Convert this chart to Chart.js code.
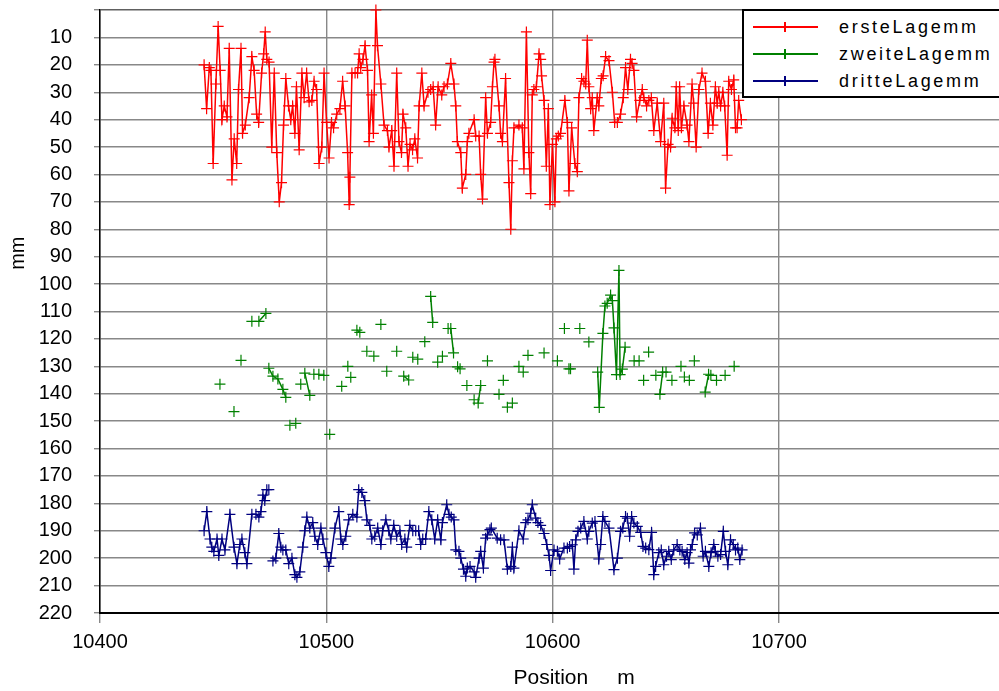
<!DOCTYPE html>
<html>
<head>
<meta charset="utf-8">
<script src="https://cdn.jsdelivr.net/npm/chart.js@4.4.1/dist/chart.umd.min.js"></script>
<style>
html,body{margin:0;padding:0;background:#fff;overflow:hidden;}
#wrap{position:relative;width:999px;height:691px;overflow:hidden;}
#c{position:absolute;left:0;top:0;}
#legend{position:absolute;left:742px;top:9px;width:300px;height:89px;border:2px solid #000;background:#fff;box-sizing:border-box;
  font-family:'Liberation Sans',Arial,sans-serif;font-size:18px;letter-spacing:2.7px;color:#000;}
.row{position:absolute;left:0;height:22px;line-height:22px;width:100%;}
.sw{position:absolute;left:9px;top:10px;width:65px;height:2px;}
.sw i{position:absolute;left:31px;top:-4px;width:1.5px;height:10px;}
.tx{position:absolute;left:95px;top:0;}
</style>
</head>
<body>
<div id="wrap">
<canvas id="c" width="1055" height="691"></canvas>
<div id="legend"></div>
</div>
<script>
const seriesNames = ['ersteLagemm', 'zweiteLagemm', 'dritteLagemm'];
const seriesColors = ['#ff0000', '#008000', '#000080'];
const xTicks = [10400, 10500, 10600, 10700];
const yTicks = [0,10,20,30,40,50,60,70,80,90,100,110,120,130,140,150,160,170,180,190,200,210,220];
const xTitle = 'Position     m';
const yTitle = '                     mm';

const redPos = [10446.0,10447.1,10448.3,10449.0,10450.0,10451.2,10452.2,10453.1,10453.9,10454.9,10456.1,10457.1,10458.3,10459.3,10460.4,10461.2,10462.3,10463.0,10464.2,10465.9,
10467.1,10468.1,10469.2,10470.1,10471.4,10472.3,10473.0,10473.7,10474.7,10475.9,10477.0,10478.1,10479.2,10480.2,10481.1,10482.1,10483.3,10484.3,10485.1,10486.1,
10486.8,10488.0,10489.2,10490.2,10491.3,10492.4,10493.6,10494.6,10495.7,10496.8,10498.0,10499.0,10500.1,10501.2,10502.3,10503.2,10504.6,10506.0,10507.2,10508.3,
10509.4,10510.1,10510.4,10511.3,10512.7,10513.8,10514.5,10515.2,10516.2,10517.1,10518.2,10518.9,10520.0,10520.8,10521.9,10522.6,10524.1,10525.5,10527.0,10527.7,
10528.9,10529.9,10531.1,10532.1,10533.2,10533.9,10535.1,10536.1,10537.0,10538.1,10539.1,10540.3,10541.0,10542.2,10543.2,10544.9,10546.1,10547.2,10548.3,10549.4,
10551.0,10552.0,10553.5,10555.0,10556.4,10557.2,10557.9,10559.4,10560.1,10561.6,10562.3,10563.0,10565.3,10566.0,10567.5,10568.2,10569.0,10570.4,10571.2,10572.6,
10573.4,10574.1,10574.5,10576.3,10577.0,10577.8,10579.2,10580.7,10581.5,10582.2,10582.9,10585.1,10586.6,10587.3,10588.4,10589.5,10590.3,10591.0,10591.7,10592.8,
10594.0,10594.7,10595.1,10596.2,10597.2,10598.1,10598.8,10599.9,10601.0,10601.6,10602.5,10603.5,10605.4,10606.5,10607.2,10608.4,10609.8,10610.9,10611.6,10612.8,
10613.8,10614.6,10615.3,10616.0,10616.8,10617.5,10618.2,10619.7,10620.4,10621.5,10622.3,10623.4,10624.9,10626.4,10627.4,10628.6,10630.0,10631.2,10632.2,10633.2,
10634.4,10635.1,10635.9,10637.1,10638.5,10639.6,10640.3,10641.5,10642.5,10643.6,10644.7,10646.2,10647.7,10649.1,10649.9,10651.0,10652.1,10652.8,10654.0,10654.6,
10655.5,10656.1,10656.9,10658.0,10659.4,10660.2,10661.6,10662.3,10663.4,10664.6,10666.0,10667.5,10668.7,10669.7,10670.8,10671.9,10672.7,10673.4,10674.2,10675.2,
10676.0,10677.1,10677.8,10679.0,10680.0,10680.8,10681.5,10682.2,10683.4];
const redVal = [20,36,21,22,56,27,6,22,40,35,39,14,62,47,56,29,14,45,42,32,
17,22,38,41,23,16,8,18,19,50,23,52,70,63,42,25,35,40,35,45,
28,51,23,32,23,33.5,33,26,29,56,50,23,41,54,41,43,38,36,26,35,
52,71,61,23,23,23,16,21,18,13,22,48,31,45,0,13,27,42,44,50,
44,57,23,48,52,38,43,57,49,51,47,54,35,23,35,30,29,28,42,28,
31,28,27,19.5,27,35,48,52,65,60,48,45,40,46,46,60,69,32,45,41,
28,19,18,35,45,48,25,63,80,55,43,42,43,58,8,52,67,31,29,28,
16,18,24,33,57,36,71,49,70,47,46,45,33,41,66,43,56,59,32,25,
26,27,11,28,36,32,44,32,35,25,24,17,18.5,30,41,41,38,32,21,29,
18,19.5,22,39,33,29,32,35,33,32,44,34,48,34,65,49,50,39.5,43,28,
44,28,43,35,42,48,27,34,50,29,23,26,45,34,42,28,34,30,35,30,
35,53,26,29,25.5,43,43,33,40];

const greenPos = [10453.0,10456.0,10459.2,10461.0,10462.3,10465.0,10467.1,10469.0,10470.2,10473.3,10474.0,10474.6,10476.4,10478.6,10480.8,10482.1,10483.0,10483.9,10485.0,10486.5,
10487.5,10488.7,10489.5,10490.5,10492.7,10493.5,10494.5,10495.5,10496.7,10498.0,10498.9,10500.0,10501.5,10504.0,10506.8,10508.0,10509.5,10510.2,10510.8,10512.0,
10513.5,10514.8,10516.0,10517.9,10519.5,10521.0,10522.5,10524.1,10525.5,10526.7,10529.0,10531.1,10532.5,10534.2,10536.4,10537.3,10538.2,10539.3,10540.4,10542.0,
10543.5,10545.0,10546.1,10547.0,10548.0,10549.2,10550.3,10551.3,10552.5,10553.8,10555.0,10556.2,10557.0,10558.0,10559.1,10560.5,10562.1,10563.7,10565.3,10566.2,
10567.1,10568.2,10569.7,10571.2,10573.7,10576.3,10577.2,10578.2,10579.1,10580.0,10581.1,10582.2,10583.6,10585.1,10586.0,10587.0,10588.0,10589.1,10592.5,10596.2,
10599.0,10602.1,10603.6,10605.2,10606.2,10607.2,10607.9,10610.0,10612.0,10614.0,10616.0,10618.0,10619.9,10620.6,10622.2,10623.1,10624.1,10625.6,10626.4,10627.1,
10628.2,10629.3,10629.8,10630.8,10632.0,10634.0,10636.0,10637.1,10638.2,10639.2,10640.2,10641.3,10642.4,10644.0,10645.6,10646.5,10647.4,10648.6,10649.3,10650.1,
10651.4,10652.7,10654.7,10656.7,10657.4,10658.2,10659.3,10660.4,10661.5,10662.6,10665.0,10667.4,10668.9,10669.4,10669.9,10671.1,10672.4,10674.3,10676.2,10678.2,
10680.2];
const greenVal = [136.5,null,146.5,null,127.8,null,113.6,null,113.6,110.7,null,130.7,133.6,134.6,138.4,141.3,null,151.5,null,150.8,
null,136.5,null,132.5,140.6,null,132.9,null,132.9,null,133.3,null,154.8,null,137.3,null,130,null,134,null,
116.8,117.6,null,124.5,null,126.3,null,114.7,null,131.8,null,124.5,null,133.6,135,null,126.7,null,127.4,null,
121,null,104.5,114,null,128.5,null,126.3,null,116.2,116.2,125.1,null,130.2,130.9,null,137,null,142.2,null,
143.4,137,null,128,null,140.2,null,135.1,null,144.9,null,143.4,null,130,null,132.1,null,126,null,125.1,
null,128,null,116.2,null,130.9,130.9,null,116.2,null,121.1,null,132.1,145,118,108,107,104,106,116,
133,95,133,131,123,null,128,null,128,null,135.1,null,124.8,null,133.3,null,140.2,132.1,null,132.1,
null,135.1,null,130,null,133.9,null,135.1,null,128,null,139.4,132.9,null,133.3,null,135.1,null,133.3,null,
130];

const bluePos = [10446.0,10447.2,10448.6,10449.4,10450.3,10451.7,10452.5,10453.9,10455.2,10457.4,10459.2,10460.5,10461.8,10462.7,10464.0,10464.9,10467.1,10468.9,10470.2,10471.1,
10472.0,10472.8,10473.7,10474.6,10475.5,10476.4,10477.7,10479.0,10479.9,10480.8,10482.1,10483.4,10484.8,10486.1,10487.0,10488.3,10489.6,10490.5,10491.4,10492.7,
10494.0,10494.9,10496.2,10497.6,10498.5,10499.8,10501.1,10502.0,10503.8,10505.5,10506.4,10507.3,10508.6,10509.9,10511.7,10513.5,10514.3,10515.7,10517.0,10517.9,
10519.2,10520.1,10521.4,10522.7,10524.1,10524.9,10526.3,10527.6,10528.5,10529.8,10531.1,10532.5,10533.3,10534.7,10535.5,10536.9,10538.2,10539.5,10540.8,10541.7,
10542.6,10543.9,10545.3,10546.6,10547.9,10549.2,10550.6,10551.3,10553.2,10554.2,10555.2,10556.4,10557.2,10558.6,10559.4,10560.6,10561.6,10562.3,10563.5,10565.3,
10566.0,10567.5,10568.2,10569.4,10570.4,10571.2,10572.3,10572.9,10575.5,10577.0,10578.5,10580.0,10581.5,10582.2,10582.9,10585.1,10587.0,10588.1,10589.1,10590.3,
10591.0,10592.5,10593.5,10594.7,10596.2,10597.4,10598.4,10599.1,10600.6,10602.1,10603.1,10605.0,10606.5,10607.5,10608.7,10609.4,10610.2,10611.2,10612.4,10613.8,
10615.3,10616.0,10617.5,10618.7,10620.4,10621.2,10622.2,10623.1,10624.9,10627.1,10628.6,10630.0,10631.0,10632.2,10633.0,10634.0,10634.9,10635.9,10637.4,10638.9,
10639.9,10641.1,10642.5,10643.7,10644.7,10645.5,10646.9,10648.0,10649.1,10650.3,10651.3,10652.4,10653.5,10655.0,10656.2,10657.2,10658.4,10659.4,10660.2,10660.9,
10661.7,10662.7,10663.9,10665.3,10666.5,10667.5,10669.0,10670.0,10671.2,10671.9,10673.0,10674.2,10675.4,10676.4,10677.4,10678.6,10679.8,10680.8,10681.8,10682.7,
10683.7];
const blueVal = [190,183,193,196,197.5,193,199,193,197,184,196,202,195,193,198,202,184,184,185,183,
177,179,175,175,null,201,200,191,196,197,197,202,200,206,207,205,196,190,185,189,
187,192,195,189,193,198,203,200,189,183,193,195,192,186,184,185,175,176,179,186,
188,193,192,189,195,190,186,190,193,188,192,190,195,193,196,188,190,190,190,195,
193,193,183,186,193,186,193.3,187,180.5,184,185,186,197,197.5,200,204,206.6,203.6,203,205,
207,200,197.5,203.6,192.7,191.5,189.6,189,192.7,193.3,193.3,204,203,196,203.6,190,193,187,186,183.6,
180.5,185.4,187,188,191,195,199,204.5,197,197.5,200.3,196.3,196.3,195.7,195.1,204,193.3,190.2,189,186.6,
193,190.2,187.2,186.6,200.3,195,184.8,186.6,189,204.2,200,190.2,189,184.8,185.4,192,184.8,187.2,188.4,190.6,
195.7,196.3,196.9,190.6,206,203,198,197,202.4,199.3,197.5,200.5,197,195,197,197.5,200.5,198,201.8,197,
195,190.8,191.5,189,199.3,197.5,203,198,195,197.5,199.3,198.7,190.2,197.5,202.4,193.3,195,197,196.3,200.5,
197];

function toPoints(pos, val) {
  return pos.map((p, i) => ({ x: p, y: val[i] }));
}
const posSets = [redPos, greenPos, bluePos];
const valSets = [redVal, greenVal, blueVal];

const FONT = "'Liberation Sans', Arial, sans-serif";

const datasets = seriesNames.map((name, i) => ({
  label: name,
  data: toPoints(posSets[i], valSets[i]),
  borderColor: seriesColors[i],
  backgroundColor: seriesColors[i],
  borderWidth: 1.5,
  pointStyle: 'cross',
  pointRadius: 5.5,
  pointBorderWidth: 1.2,
  pointHoverRadius: 5.5,
  tension: 0,
  spanGaps: false,
  clip: false
}));

new Chart(document.getElementById('c'), {
  type: 'line',
  data: { datasets },
  options: {
    responsive: false,
    maintainAspectRatio: false,
    animation: false,
    events: [],
    layout: { padding: { top: 10, right: 0, left: 0, bottom: 0 } },
    plugins: { legend: { display: false }, tooltip: { enabled: false } },
    scales: {
      x: {
        type: 'linear',
        min: 10400,
        max: 10819,
        afterBuildTicks: (s) => { s.ticks = xTicks.map(v => ({ value: v })); },
        afterFit: (s) => { s.height = 78; s.paddingLeft = 0; s.paddingRight = 0; },
        ticks: { color: '#000', font: { family: FONT, size: 20 }, padding: 7, maxRotation: 0, autoSkip: false,
          callback: (v) => String(v) },
        grid: { color: '#888', lineWidth: 1.4, tickLength: 10, tickColor: '#888' },
        border: { color: '#000', width: 2 },
        title: { display: true, text: xTitle, color: '#000', font: { family: FONT, size: 21 }, padding: { top: 0, bottom: 0 } }
      },
      y: {
        type: 'linear',
        reverse: true,
        min: 0,
        max: 220,
        afterBuildTicks: (s) => { s.ticks = yTicks.map(v => ({ value: v })); },
        afterFit: (s) => { s.width = 100; s.paddingTop = 0; s.paddingBottom = 0; },
        ticks: { color: '#000', font: { family: FONT, size: 20 }, padding: 22, autoSkip: false,
          callback: (v) => (v === 0 ? '' : String(v)) },
        grid: { color: (ctx) => (ctx.tick && ctx.tick.value === 0 ? '#606060' : '#888'), lineWidth: 1.4, tickLength: 6, tickColor: '#888' },
        border: { color: '#000', width: 1.5 },
        title: { display: true, text: yTitle, color: '#000', font: { family: FONT, size: 20 }, padding: { top: 6, bottom: 0 } }
      }
    }
  }
});

// HTML legend built from the series names/colours
const leg = document.getElementById('legend');
seriesNames.forEach((name, i) => {
  const row = document.createElement('div');
  row.className = 'row';
  row.style.top = (4.7 + 27.2 * i) + 'px';
  const sw = document.createElement('span');
  sw.className = 'sw';
  sw.style.background = seriesColors[i];
  const tick = document.createElement('i');
  tick.style.background = seriesColors[i];
  sw.appendChild(tick);
  const tx = document.createElement('span');
  tx.className = 'tx';
  tx.textContent = name;
  row.appendChild(sw);
  row.appendChild(tx);
  leg.appendChild(row);
});
</script>
</body>
</html>
